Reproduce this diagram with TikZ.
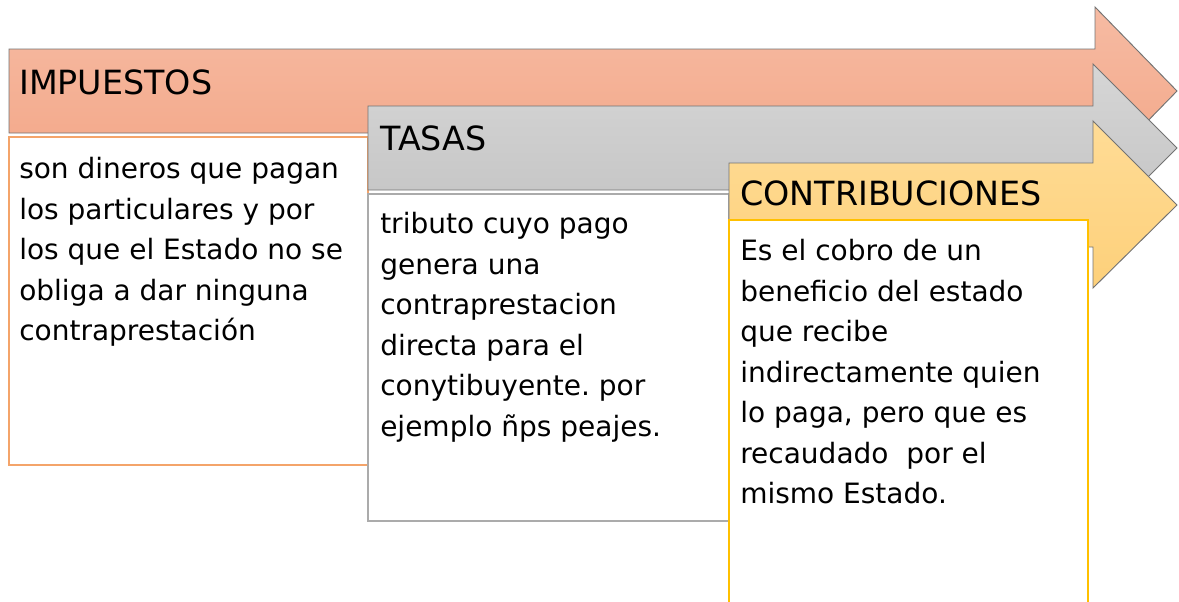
\documentclass[tikz,border=0pt]{standalone}
\usepackage{fontspec}
\setmainfont{DejaVu Sans}
\usetikzlibrary{positioning}
\frenchspacing
\definecolor{impArriba}{HTML}{F6BBA3}
\definecolor{impAbajo}{HTML}{F3A687}
\definecolor{impBorde}{HTML}{F4A46A}
\definecolor{tasArriba}{HTML}{D6D6D6}
\definecolor{tasAbajo}{HTML}{C2C2C2}
\definecolor{tasBorde}{HTML}{ABABAB}
\definecolor{conArriba}{HTML}{FFDC96}
\definecolor{conAbajo}{HTML}{FDD07A}
\definecolor{conBorde}{HTML}{FFC000}
\begin{document}
\begin{tikzpicture}[x=0.75pt,y=-0.75pt]
\tikzstyle{flecha}=[draw=black!55, line width=0.7pt, line join=miter]
\tikzstyle{caja}=[fill=white, line width=0.9pt]
\tikzstyle{titulo}=[anchor=base west, inner sep=0pt, font=\fontsize{25}{30}\selectfont]
\tikzstyle{texto}=[anchor=north west, inner sep=0pt, align=left, font=\fontsize{21}{30.4}\selectfont]
\useasboundingbox (0,0) rectangle (1179,601);
% impuestos
\path[flecha, top color=impArriba, bottom color=impAbajo]
  (9,49) -- (1095,49) -- (1095,7) -- (1177,91) -- (1095,175) -- (1095,133) -- (9,133) -- cycle;
\node[titulo] (Impuestos) at (19,94) {IMPUESTOS};
\draw[caja, draw=impBorde] (9,137) rectangle (368,465);
\node[texto] (ImpTexto) at (19,157) {son dineros que pagan\\los particulares y por\\los que el Estado no se\\obliga a dar ninguna\\contraprestación};
% tasas
\path[flecha, top color=tasArriba, bottom color=tasAbajo]
  (368,106) -- (1093,106) -- (1093,64) -- (1177,148) -- (1093,232) -- (1093,190) -- (368,190) -- cycle;
\node[titulo] (Tasas) at (380,150) {TASAS};
\draw[caja, draw=tasBorde] (368,194) rectangle (729,521);
\node[texto] (TasTexto) at (380,212) {tributo cuyo pago\\genera una\\contraprestacion\\directa para el\\conytibuyente. por\\ejemplo ñps peajes.};
% contribuciones
\path[flecha, top color=conArriba, bottom color=conAbajo]
  (729,163) -- (1093,163) -- (1093,121) -- (1177,205) -- (1093,288) -- (1093,247) -- (729,247) -- cycle;
\node[titulo] (Contribuciones) at (740,205) {CONTRIBUCIONES};
\draw[caja, draw=conBorde] (729,220) rectangle (1088,610);
\node[texto] (ConTexto) at (740,239) {Es el cobro de un\\beneficio del estado\\que recibe\\indirectamente quien\\lo paga, pero que es\\recaudado~ por el\\mismo Estado.};
\end{tikzpicture}
\end{document}
